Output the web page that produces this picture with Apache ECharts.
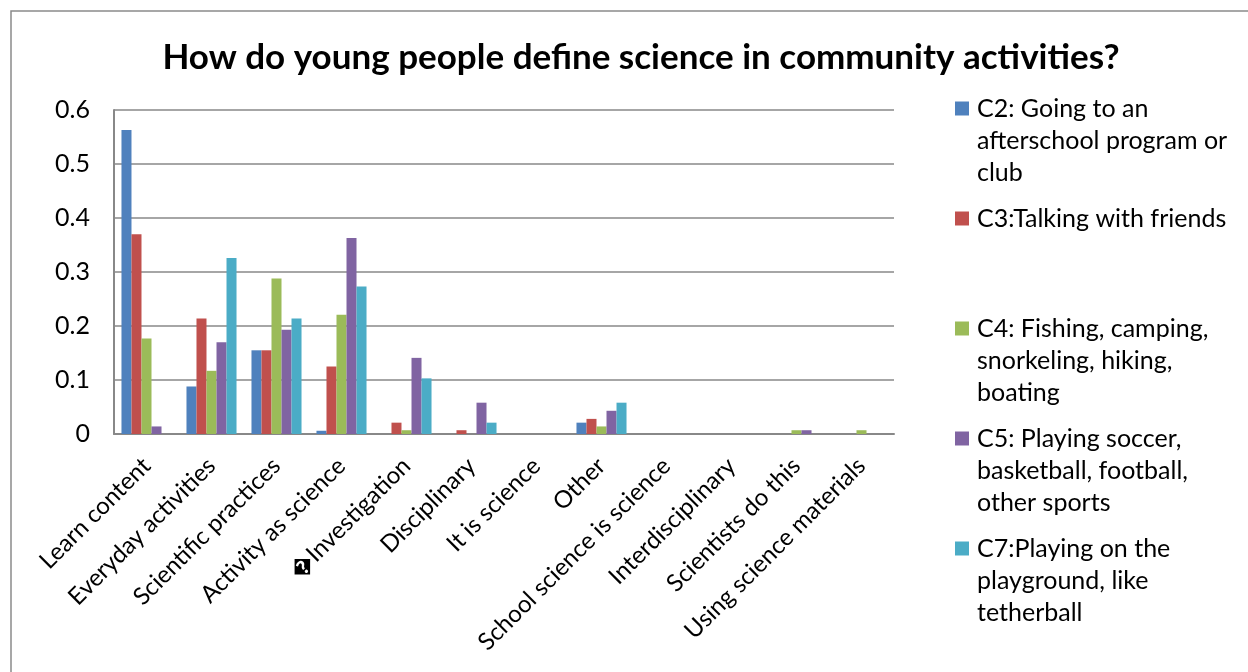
<!DOCTYPE html>
<html>
<head>
<meta charset="utf-8">
<script src="https://cdn.jsdelivr.net/npm/echarts@6/dist/echarts.min.js"></script>
<style>
  html, body { margin: 0; padding: 0; background: #ffffff; }
  #chart { width: 1248px; height: 672px; }
</style>
</head>
<body>
<div id="chart"></div>
<script>
// Response categories along the x axis
const categories = [
  'Learn content', 'Everyday activities', 'Scientific practices', 'Activity as science',
  '\uFFFDInvestigation', 'Disciplinary', 'It is science', 'Other',
  'School science is science', 'Interdisciplinary', 'Scientists do this', 'Using science materials'
];

// Share of responses per community activity
const c2 = [0.563, 0.088, 0.155, 0.006, 0, 0, 0, 0.021, 0, 0, 0, 0];
const c3 = [0.370, 0.214, 0.155, 0.125, 0.021, 0.007, 0, 0.028, 0, 0, 0, 0];
const c4 = [0.177, 0.117, 0.288, 0.221, 0.007, 0, 0, 0.014, 0, 0, 0.007, 0.007];
const c5 = [0.014, 0.170, 0.193, 0.363, 0.141, 0.058, 0, 0.043, 0, 0, 0.007, 0];
const c7 = [0, 0.326, 0.214, 0.273, 0.103, 0.021, 0, 0.058, 0, 0, 0, 0];

const seriesNames = [
  'C2: Going to an afterschool program or club',
  'C3:Talking with friends',
  'C4: Fishing, camping, snorkeling, hiking, boating',
  'C5: Playing soccer, basketball, football, other sports',
  'C7:Playing on the playground, like tetherball'
];
// Wrapped legend text, one entry per series
const legendLines = [
  ['C2: Going to an', 'afterschool program or', 'club'],
  ['C3:Talking with friends'],
  ['C4: Fishing, camping,', 'snorkeling, hiking,', 'boating'],
  ['C5: Playing soccer,', 'basketball, football,', 'other sports'],
  ['C7:Playing on the', 'playground, like', 'tetherball']
];
const seriesData = [c2, c3, c4, c5, c7];
const colors = ['#4F81BD', '#C0504D', '#9BBB59', '#8064A2', '#4BACC6'];
const yTicks = { min: 0, max: 0.6, interval: 0.1 };

const FONT = 'Lato, "Open Sans", sans-serif';
const legendTops = [96, 206, 316, 426, 536];

const chart = echarts.init(document.getElementById('chart'), null, { renderer: 'canvas' });

const legends = seriesNames.map((name, i) => ({
  data: [name],
  orient: 'vertical',
  left: 950,
  top: legendTops[i],
  padding: 0,
  itemWidth: 0,
  itemHeight: 0,
  selectedMode: false,
  formatter: () => legendLines[i]
    .map((line, k) => (k === 0 ? '{sq|}' : '{pad|}') + '{t|' + line + '}')
    .join('\n'),
  textStyle: {
    rich: {
      sq: { width: 14, height: 14, backgroundColor: colors[i], verticalAlign: 'middle' },
      pad: { width: 14, height: 14 },
      t: { fontFamily: FONT, fontSize: 25, lineHeight: 32, color: '#000', padding: [0, 0, 0, 8] }
    }
  }
}));

const option = {
  animation: false,
  backgroundColor: '#ffffff',
  title: {
    text: 'How do young people define science in community activities?',
    left: 636,
    textAlign: 'center',
    top: 35,
    textStyle: { fontFamily: FONT, fontSize: 35, fontWeight: 'bold', color: '#000' }
  },
  graphic: [{
    type: 'rect',
    shape: { x: 11, y: 11, width: 1400, height: 800 },
    style: { fill: 'none', stroke: '#8a8a8a', lineWidth: 1.5 },
    silent: true,
    z: -1
  }],
  legend: legends,
  grid: { left: 114, right: 354, top: 110, bottom: 238 },
  xAxis: {
    type: 'category',
    data: categories,
    axisLine: { show: true, lineStyle: { color: '#888888', width: 2 } },
    axisTick: { show: false },
    axisLabel: {
      interval: 0,
      rotate: 45,
      margin: 28,
      fontFamily: FONT,
      fontSize: 24,
      color: '#000'
    }
  },
  yAxis: {
    type: 'value',
    min: yTicks.min,
    max: yTicks.max,
    interval: yTicks.interval,
    axisLine: { show: true, lineStyle: { color: '#888888', width: 2 } },
    axisTick: { show: false },
    splitLine: { lineStyle: { color: '#888888', width: 1.5 } },
    axisLabel: {
      margin: 24,
      fontFamily: FONT,
      fontSize: 25,
      color: '#000',
      formatter: v => (v === 0 ? '0' : String(Math.round(v * 10) / 10))
    }
  },
  series: seriesNames.map((name, i) => ({
    name,
    type: 'bar',
    data: seriesData[i],
    barGap: '0%',
    barCategoryGap: '23%',
    itemStyle: { color: colors[i], borderWidth: 0 }
  }))
};

chart.setOption(option);
</script>
</body>
</html>
